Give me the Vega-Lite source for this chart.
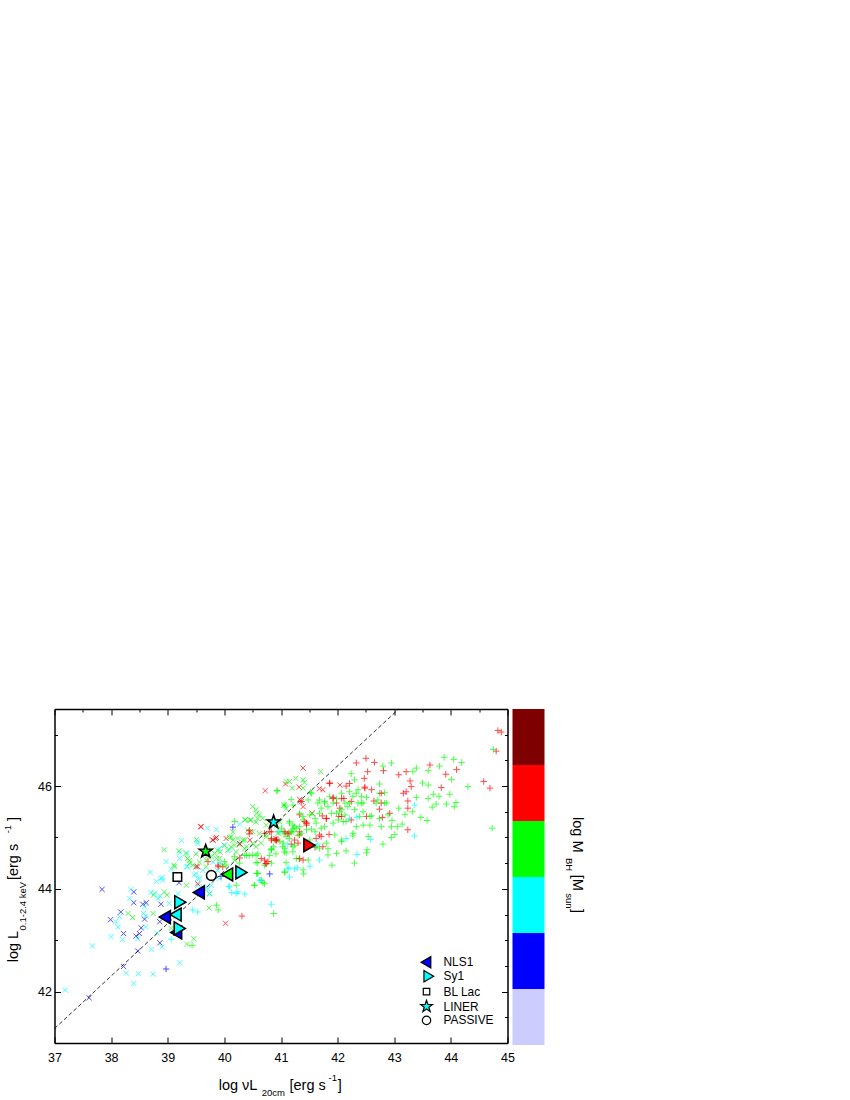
{
"$schema":"https://vega.github.io/schema/vega-lite/v6.json",
"autosize":{"type":"pad"},
"padding":{"left":2.5,"top":707,"right":0,"bottom":0},
"background":"white",
"config":{"view":{"stroke":null},"font":"Liberation Sans"},
"resolve":{"scale":{"color":"independent"}},
"datasets":{
"scatter":[
{"x":37.84,"y":43.99,"m":"x","c":"B"},{"x":38.40,"y":43.94,"m":"x","c":"B"},{"x":38.40,"y":43.73,"m":"x","c":"B"},{"x":38.62,"y":43.73,"m":"x","c":"B"},{"x":38.56,"y":43.70,"m":"x","c":"B"},{"x":38.17,"y":43.55,"m":"x","c":"B"},{"x":37.99,"y":43.40,"m":"x","c":"B"},{"x":38.59,"y":43.41,"m":"x","c":"B"},{"x":38.88,"y":43.70,"m":"x","c":"B"},{"x":38.22,"y":43.13,"m":"x","c":"B"},{"x":38.53,"y":43.24,"m":"x","c":"B"},{"x":38.44,"y":43.08,"m":"x","c":"B"},{"x":38.50,"y":43.13,"m":"x","c":"B"},{"x":38.86,"y":42.95,"m":"x","c":"B"},{"x":38.47,"y":42.79,"m":"x","c":"B"},{"x":38.22,"y":42.49,"m":"x","c":"B"},{"x":37.61,"y":41.88,"m":"x","c":"B"},{"x":38.97,"y":42.44,"m":"+","c":"B"},{"x":38.86,"y":43.36,"m":"x","c":"B"},{"x":39.2,"y":44.12,"m":"x","c":"B"},
{"x":38.69,"y":44.32,"m":"x","c":"C"},{"x":38.97,"y":44.53,"m":"x","c":"C"},{"x":38.35,"y":43.99,"m":"x","c":"C"},{"x":38.33,"y":43.81,"m":"x","c":"C"},{"x":38.70,"y":43.93,"m":"x","c":"C"},{"x":38.8,"y":44.14,"m":"x","c":"C"},{"x":38.88,"y":44.20,"m":"x","c":"C"},{"x":38.91,"y":44.17,"m":"x","c":"C"},{"x":38.77,"y":43.91,"m":"x","c":"C"},{"x":38.86,"y":43.86,"m":"x","c":"C"},{"x":38.83,"y":43.81,"m":"x","c":"C"},{"x":38.59,"y":43.65,"m":"x","c":"C"},{"x":38.57,"y":43.52,"m":"x","c":"C"},{"x":38.61,"y":43.47,"m":"x","c":"C"},{"x":38.15,"y":43.46,"m":"x","c":"C"},{"x":38.08,"y":43.36,"m":"x","c":"C"},{"x":38.12,"y":43.26,"m":"x","c":"C"},{"x":38.61,"y":43.26,"m":"x","c":"C"},{"x":38.0,"y":43.07,"m":"x","c":"C"},{"x":38.2,"y":43.01,"m":"x","c":"C"},{"x":38.47,"y":43.03,"m":"x","c":"C"},{"x":38.81,"y":43.14,"m":"x","c":"C"},{"x":38.9,"y":42.87,"m":"x","c":"C"},{"x":38.71,"y":42.82,"m":"x","c":"C"},{"x":37.67,"y":42.89,"m":"x","c":"C"},{"x":37.19,"y":42.03,"m":"x","c":"C"},{"x":38.27,"y":42.36,"m":"x","c":"C"},{"x":38.48,"y":42.35,"m":"x","c":"C"},{"x":38.74,"y":42.34,"m":"x","c":"C"},{"x":38.4,"y":42.16,"m":"x","c":"C"},{"x":39.21,"y":42.56,"m":"x","c":"C"},{"x":39.06,"y":43.02,"m":"+","c":"C"},{"x":39.06,"y":44.38,"m":"x","c":"C"},{"x":39.5,"y":44.43,"m":"x","c":"C"},{"x":39.47,"y":44.27,"m":"x","c":"C"},{"x":39.56,"y":44.2,"m":"x","c":"C"},{"x":39.53,"y":44.07,"m":"x","c":"C"},{"x":39.62,"y":44.04,"m":"x","c":"C"},{"x":39.71,"y":44.0,"m":"x","c":"C"},{"x":39.18,"y":43.91,"m":"x","c":"C"},{"x":38.97,"y":43.46,"m":"x","c":"C"},{"x":39.03,"y":43.72,"m":"x","c":"C"},{"x":39.33,"y":44.43,"m":"x","c":"C"},
{"x":39.44,"y":43.59,"m":"+","c":"C"},{"x":39.53,"y":43.55,"m":"+","c":"C"},{"x":40.08,"y":44.05,"m":"+","c":"C"},{"x":40.13,"y":43.93,"m":"+","c":"C"},{"x":40.21,"y":43.91,"m":"+","c":"C"},{"x":40.65,"y":44.16,"m":"+","c":"C"},{"x":40.83,"y":43.70,"m":"+","c":"C"},
{"x":39.11,"y":44.46,"m":"x","c":"G"},{"x":38.3,"y":43.52,"m":"x","c":"G"},{"x":38.38,"y":43.44,"m":"x","c":"G"},{"x":38.74,"y":43.52,"m":"x","c":"G"},{"x":38.75,"y":43.88,"m":"x","c":"G"},{"x":38.94,"y":43.94,"m":"x","c":"G"},{"x":38.99,"y":43.88,"m":"x","c":"G"},{"x":39.33,"y":44.07,"m":"x","c":"G"},{"x":39.22,"y":43.75,"m":"x","c":"G"},{"x":39.06,"y":43.23,"m":"x","c":"G"},{"x":39.34,"y":42.92,"m":"x","c":"G"},{"x":39.46,"y":43.03,"m":"x","c":"G"},{"x":39.74,"y":43.91,"m":"x","c":"G"},{"x":39.73,"y":43.63,"m":"x","c":"G"},{"x":39.39,"y":44.5,"m":"x","c":"G"},{"x":39.68,"y":44.43,"m":"x","c":"G"},
{"x":39.43,"y":42.9,"m":"+","c":"G"},{"x":39.86,"y":43.68,"m":"+","c":"G"},{"x":39.89,"y":43.59,"m":"+","c":"G"},{"x":40.21,"y":44.07,"m":"+","c":"G"},{"x":40.53,"y":44.07,"m":"+","c":"G"},{"x":40.59,"y":44.3,"m":"+","c":"G"},{"x":40.68,"y":44.12,"m":"+","c":"G"},{"x":40.87,"y":43.52,"m":"+","c":"G"},{"x":40.59,"y":44.51,"m":"+","c":"G"},{"x":40.71,"y":44.46,"m":"+","c":"G"},
{"x":40.02,"y":43.33,"m":"x","c":"R"},{"x":40.31,"y":43.47,"m":"+","c":"R"},{"x":39.53,"y":44.1,"m":"x","c":"R"},{"x":39.5,"y":44.43,"m":"x","c":"R"},{"x":39.71,"y":44.53,"m":"+","c":"R"},{"x":39.89,"y":44.43,"m":"+","c":"R"},{"x":40.73,"y":44.49,"m":"+","c":"R"},
{"x":40.8,"y":44.29,"m":"+","c":"B"},{"x":39.94,"y":44.24,"m":"+","c":"B"},{"x":40.15,"y":45.2,"m":"+","c":"B"},
{"x":40.72,"y":45.91,"m":"x","c":"R"},{"x":39.59,"y":45.21,"m":"x","c":"R"},{"x":39.79,"y":44.95,"m":"x","c":"R"},{"x":39.86,"y":45.0,"m":"x","c":"R"},{"x":40.03,"y":44.98,"m":"x","c":"R"},{"x":40.46,"y":45.11,"m":"x","c":"R"},{"x":40.45,"y":44.95,"m":"x","c":"R"},{"x":40.27,"y":44.87,"m":"x","c":"R"},
{"x":39.7,"y":45.18,"m":"x","c":"C"},{"x":39.86,"y":45.16,"m":"x","c":"C"},{"x":40.27,"y":45.26,"m":"x","c":"C"},{"x":39.24,"y":44.94,"m":"x","c":"C"},{"x":39.21,"y":44.7,"m":"x","c":"C"},{"x":39.34,"y":44.69,"m":"x","c":"C"},{"x":38.9,"y":44.22,"m":"x","c":"C"},{"x":39.52,"y":44.92,"m":"x","c":"C"},{"x":40.0,"y":44.85,"m":"x","c":"C"},{"x":40.09,"y":44.76,"m":"x","c":"C"},
{"x":38.94,"y":44.76,"m":"x","c":"G"},{"x":39.2,"y":44.74,"m":"x","c":"G"},{"x":39.51,"y":44.96,"m":"x","c":"G"},{"x":39.5,"y":44.68,"m":"x","c":"G"},{"x":39.38,"y":44.55,"m":"x","c":"G"},{"x":39.68,"y":44.56,"m":"x","c":"G"},{"x":39.77,"y":44.63,"m":"x","c":"G"},{"x":39.86,"y":44.59,"m":"x","c":"G"},{"x":39.92,"y":44.72,"m":"x","c":"G"},{"x":40.09,"y":45.0,"m":"x","c":"G"},{"x":40.15,"y":44.95,"m":"x","c":"G"},{"x":40.12,"y":44.82,"m":"x","c":"G"},{"x":40.37,"y":45.35,"m":"x","c":"G"},{"x":40.5,"y":45.6,"m":"x","c":"G"},{"x":40.56,"y":45.54,"m":"x","c":"G"},{"x":40.62,"y":45.44,"m":"x","c":"G"},{"x":40.59,"y":45.37,"m":"x","c":"G"},{"x":40.45,"y":45.34,"m":"x","c":"G"},{"x":40.5,"y":45.11,"m":"x","c":"G"},{"x":40.33,"y":44.95,"m":"x","c":"G"},{"x":40.21,"y":44.72,"m":"x","c":"G"},{"x":40.39,"y":44.82,"m":"x","c":"G"},{"x":40.56,"y":44.82,"m":"x","c":"G"},{"x":40.65,"y":44.89,"m":"x","c":"G"},{"x":40.86,"y":44.95,"m":"x","c":"G"},{"x":40.95,"y":45.08,"m":"x","c":"G"},{"x":40.74,"y":45.05,"m":"x","c":"G"},
{"x":40.93,"y":45.91,"m":"+","c":"G"},{"x":40.5,"y":44.66,"m":"+","c":"G"},{"x":40.59,"y":44.68,"m":"+","c":"G"},{"x":40.39,"y":44.65,"m":"+","c":"G"},{"x":40.18,"y":45.31,"m":"+","c":"G"},{"x":40.56,"y":44.51,"m":"+","c":"G"},{"x":40.27,"y":44.5,"m":"+","c":"G"},{"x":40.18,"y":44.63,"m":"+","c":"G"},{"x":40.03,"y":44.46,"m":"+","c":"G"},{"x":40.0,"y":44.53,"m":"+","c":"G"},{"x":40.83,"y":44.5,"m":"+","c":"G"},{"x":40.83,"y":44.76,"m":"+","c":"G"},{"x":40.58,"y":44.3,"m":"+","c":"G"},
{"x":40.77,"y":44.53,"m":"+","c":"R"},{"x":39.89,"y":44.46,"m":"+","c":"R"},{"x":40.92,"y":44.95,"m":"+","c":"R"},{"x":40.83,"y":45.11,"m":"+","c":"R"},{"x":40.27,"y":44.6,"m":"+","c":"R"},{"x":40.65,"y":44.59,"m":"+","c":"R"},{"x":39.97,"y":44.43,"m":"+","c":"R"},
{"x":40.27,"y":44.89,"m":"+","c":"C"},{"x":39.92,"y":44.5,"m":"+","c":"C"},
{"x":42.33,"y":46.45,"m":"+","c":"R"},{"x":42.5,"y":46.54,"m":"+","c":"R"},{"x":42.65,"y":46.46,"m":"+","c":"R"},{"x":42.53,"y":46.28,"m":"+","c":"R"},{"x":42.81,"y":46.3,"m":"+","c":"R"},{"x":42.47,"y":46.15,"m":"+","c":"R"},{"x":43.08,"y":46.22,"m":"+","c":"R"},{"x":43.21,"y":46.28,"m":"+","c":"R"},{"x":43.63,"y":46.41,"m":"+","c":"R"},{"x":44.1,"y":46.32,"m":"+","c":"R"},{"x":43.91,"y":46.23,"m":"+","c":"R"},{"x":43.28,"y":46.1,"m":"+","c":"R"},{"x":43.3,"y":45.99,"m":"+","c":"R"},{"x":43.83,"y":45.97,"m":"+","c":"R"},{"x":44.58,"y":46.09,"m":"+","c":"R"},{"x":44.69,"y":45.96,"m":"+","c":"R"},{"x":44.83,"y":47.08,"m":"+","c":"R"},{"x":44.89,"y":47.05,"m":"+","c":"R"},{"x":44.8,"y":46.68,"m":"+","c":"R"},{"x":41.86,"y":46.06,"m":"+","c":"R"},{"x":42.15,"y":46.0,"m":"+","c":"R"},{"x":42.48,"y":45.98,"m":"+","c":"R"},{"x":42.6,"y":45.93,"m":"+","c":"R"},{"x":41.92,"y":45.78,"m":"+","c":"R"},{"x":42.11,"y":45.76,"m":"+","c":"R"},{"x":42.24,"y":45.7,"m":"+","c":"R"},{"x":42.64,"y":45.71,"m":"+","c":"R"},{"x":42.77,"y":45.67,"m":"+","c":"R"},{"x":43.16,"y":45.86,"m":"+","c":"R"},{"x":43.21,"y":45.89,"m":"+","c":"R"},{"x":43.24,"y":45.71,"m":"+","c":"R"},{"x":43.24,"y":45.57,"m":"+","c":"R"},{"x":42.24,"y":45.34,"m":"+","c":"R"},{"x":42.79,"y":45.39,"m":"+","c":"R"},{"x":42.92,"y":45.47,"m":"+","c":"R"},{"x":43.24,"y":45.15,"m":"+","c":"R"},{"x":41.8,"y":45.37,"m":"+","c":"R"},{"x":41.73,"y":45.42,"m":"+","c":"R"},{"x":42.02,"y":45.41,"m":"+","c":"R"},{"x":42.51,"y":45.41,"m":"+","c":"R"},{"x":42.74,"y":45.55,"m":"+","c":"R"},{"x":41.14,"y":45.09,"m":"+","c":"R"},{"x":41.33,"y":45.11,"m":"+","c":"R"},{"x":41.33,"y":45.05,"m":"+","c":"R"},{"x":41.85,"y":45.06,"m":"+","c":"R"},{"x":41.62,"y":44.98,"m":"+","c":"R"},{"x":41.71,"y":45.02,"m":"+","c":"R"},{"x":40.83,"y":44.98,"m":"+","c":"R"},{"x":41.45,"y":45.24,"m":"+","c":"R"},{"x":41.33,"y":45.44,"m":"+","c":"R"},{"x":41.3,"y":44.89,"m":"+","c":"R"},{"x":41.18,"y":44.87,"m":"+","c":"R"},{"x":41.6,"y":44.81,"m":"+","c":"R"},{"x":41.98,"y":45.67,"m":"+","c":"R"},{"x":42.04,"y":45.57,"m":"+","c":"R"},{"x":41.74,"y":44.82,"m":"+","c":"R"},{"x":41.39,"y":44.56,"m":"+","c":"R"},{"x":41.45,"y":45.28,"m":"+","c":"R"},
{"x":41.39,"y":46.35,"m":"x","c":"R"},{"x":41.08,"y":46.04,"m":"x","c":"R"},{"x":41.32,"y":45.98,"m":"x","c":"R"},{"x":41.68,"y":45.95,"m":"x","c":"R"},{"x":41.74,"y":45.93,"m":"x","c":"R"},{"x":42.04,"y":46.02,"m":"x","c":"R"},{"x":41.33,"y":45.74,"m":"x","c":"R"},{"x":41.36,"y":45.7,"m":"x","c":"R"},{"x":41.39,"y":45.6,"m":"x","c":"R"},{"x":41.55,"y":45.47,"m":"x","c":"R"},{"x":40.92,"y":44.95,"m":"x","c":"R"},
{"x":41.7,"y":46.28,"m":"x","c":"G"},{"x":41.09,"y":46.09,"m":"x","c":"G"},{"x":41.15,"y":46.09,"m":"x","c":"G"},{"x":41.26,"y":46.15,"m":"x","c":"G"},{"x":41.2,"y":45.96,"m":"x","c":"G"},{"x":41.39,"y":46.12,"m":"x","c":"G"},{"x":41.41,"y":46.07,"m":"x","c":"G"},{"x":41.39,"y":45.96,"m":"x","c":"G"},{"x":41.05,"y":45.63,"m":"x","c":"G"},{"x":41.55,"y":45.47,"m":"x","c":"G"},{"x":40.98,"y":45.31,"m":"x","c":"G"},{"x":40.93,"y":45.24,"m":"x","c":"G"},
{"x":42.8,"y":46.39,"m":"+","c":"G"},{"x":42.95,"y":46.45,"m":"+","c":"G"},{"x":42.24,"y":46.24,"m":"+","c":"G"},{"x":42.74,"y":46.04,"m":"+","c":"G"},{"x":42.3,"y":46.12,"m":"+","c":"G"},{"x":43.88,"y":46.56,"m":"+","c":"G"},{"x":44.05,"y":46.52,"m":"+","c":"G"},{"x":44.19,"y":46.46,"m":"+","c":"G"},{"x":43.8,"y":46.39,"m":"+","c":"G"},{"x":43.6,"y":46.3,"m":"+","c":"G"},{"x":43.39,"y":46.35,"m":"+","c":"G"},{"x":43.33,"y":46.28,"m":"+","c":"G"},{"x":43.5,"y":46.06,"m":"+","c":"G"},{"x":43.6,"y":46.02,"m":"+","c":"G"},{"x":44.01,"y":46.13,"m":"+","c":"G"},{"x":44.3,"y":45.99,"m":"+","c":"G"},{"x":44.75,"y":46.71,"m":"+","c":"G"},{"x":44.73,"y":45.18,"m":"+","c":"G"},{"x":41.52,"y":45.88,"m":"+","c":"G"},{"x":41.68,"y":45.73,"m":"+","c":"G"},{"x":41.77,"y":45.7,"m":"+","c":"G"},{"x":41.86,"y":45.8,"m":"+","c":"G"},{"x":41.98,"y":45.75,"m":"+","c":"G"},{"x":42.07,"y":45.86,"m":"+","c":"G"},{"x":42.21,"y":45.89,"m":"+","c":"G"},{"x":42.36,"y":45.93,"m":"+","c":"G"},{"x":42.42,"y":45.8,"m":"+","c":"G"},{"x":42.51,"y":45.78,"m":"+","c":"G"},{"x":42.27,"y":45.8,"m":"+","c":"G"},{"x":42.74,"y":45.86,"m":"+","c":"G"},{"x":42.83,"y":45.87,"m":"+","c":"G"},{"x":42.13,"y":45.67,"m":"+","c":"G"},{"x":42.36,"y":45.67,"m":"+","c":"G"},{"x":42.45,"y":45.67,"m":"+","c":"G"},{"x":42.71,"y":45.73,"m":"+","c":"G"},{"x":42.86,"y":45.67,"m":"+","c":"G"},{"x":43.08,"y":45.57,"m":"+","c":"G"},{"x":43.19,"y":45.45,"m":"+","c":"G"},{"x":43.39,"y":45.78,"m":"+","c":"G"},{"x":43.6,"y":45.76,"m":"+","c":"G"},{"x":43.69,"y":45.84,"m":"+","c":"G"},{"x":43.79,"y":45.8,"m":"+","c":"G"},{"x":43.98,"y":45.84,"m":"+","c":"G"},{"x":44.09,"y":45.68,"m":"+","c":"G"},{"x":43.92,"y":45.65,"m":"+","c":"G"},{"x":44.06,"y":45.6,"m":"+","c":"G"},{"x":43.74,"y":45.65,"m":"+","c":"G"},{"x":43.67,"y":45.59,"m":"+","c":"G"},{"x":43.32,"y":45.5,"m":"+","c":"G"},{"x":43.47,"y":45.39,"m":"+","c":"G"},{"x":43.58,"y":45.33,"m":"+","c":"G"},{"x":42.89,"y":45.44,"m":"+","c":"G"},{"x":42.74,"y":45.37,"m":"+","c":"G"},{"x":42.6,"y":45.42,"m":"+","c":"G"},{"x":42.39,"y":45.41,"m":"+","c":"G"},{"x":42.13,"y":45.44,"m":"+","c":"G"},{"x":41.98,"y":45.47,"m":"+","c":"G"},{"x":41.89,"y":45.47,"m":"+","c":"G"},{"x":42.1,"y":45.31,"m":"+","c":"G"},{"x":41.92,"y":45.28,"m":"+","c":"G"},{"x":42.33,"y":45.21,"m":"+","c":"G"},{"x":42.57,"y":45.24,"m":"+","c":"G"},{"x":42.77,"y":45.21,"m":"+","c":"G"},{"x":42.95,"y":45.21,"m":"+","c":"G"},{"x":43.06,"y":45.21,"m":"+","c":"G"},{"x":43.14,"y":45.26,"m":"+","c":"G"},{"x":43.01,"y":45.06,"m":"+","c":"G"},{"x":42.95,"y":45.0,"m":"+","c":"G"},{"x":42.8,"y":44.87,"m":"+","c":"G"},{"x":42.54,"y":45.02,"m":"+","c":"G"},{"x":42.27,"y":45.03,"m":"+","c":"G"},{"x":42.07,"y":44.92,"m":"+","c":"G"},{"x":41.98,"y":44.69,"m":"+","c":"G"},{"x":42.15,"y":44.74,"m":"+","c":"G"},{"x":41.83,"y":44.66,"m":"+","c":"G"},{"x":41.68,"y":44.79,"m":"+","c":"G"},{"x":41.83,"y":44.78,"m":"+","c":"G"},{"x":42.52,"y":44.76,"m":"+","c":"G"},{"x":42.51,"y":44.7,"m":"+","c":"G"},{"x":42.3,"y":44.5,"m":"+","c":"G"},{"x":41.9,"y":44.46,"m":"+","c":"G"},{"x":41.09,"y":44.7,"m":"+","c":"G"},{"x":41.09,"y":44.51,"m":"+","c":"G"},{"x":41.07,"y":44.32,"m":"+","c":"G"},{"x":41.39,"y":44.37,"m":"+","c":"G"},{"x":41.4,"y":44.29,"m":"+","c":"G"},{"x":41.32,"y":44.58,"m":"+","c":"G"},{"x":41.48,"y":44.56,"m":"+","c":"G"},{"x":41.18,"y":45.74,"m":"+","c":"G"},{"x":41.07,"y":45.63,"m":"+","c":"G"},{"x":41.21,"y":45.63,"m":"+","c":"G"},{"x":41.48,"y":45.73,"m":"+","c":"G"},{"x":41.33,"y":45.47,"m":"+","c":"G"},{"x":41.39,"y":45.41,"m":"+","c":"G"},{"x":41.15,"y":45.28,"m":"+","c":"G"},{"x":41.21,"y":45.18,"m":"+","c":"G"},{"x":41.21,"y":45.11,"m":"+","c":"G"},{"x":41.33,"y":45.21,"m":"+","c":"G"},{"x":41.45,"y":45.15,"m":"+","c":"G"},{"x":41.54,"y":45.16,"m":"+","c":"G"},{"x":41.6,"y":45.11,"m":"+","c":"G"},{"x":41.71,"y":45.18,"m":"+","c":"G"},{"x":41.62,"y":45.28,"m":"+","c":"G"},{"x":41.77,"y":45.21,"m":"+","c":"G"},{"x":42.07,"y":45.54,"m":"+","c":"G"},{"x":41.71,"y":45.57,"m":"+","c":"G"},{"x":41.83,"y":45.6,"m":"+","c":"G"},{"x":42.18,"y":45.6,"m":"+","c":"G"},{"x":42.3,"y":45.54,"m":"+","c":"G"},{"x":42.45,"y":45.5,"m":"+","c":"G"},{"x":40.87,"y":44.82,"m":"+","c":"G"},{"x":40.83,"y":44.76,"m":"+","c":"G"},{"x":41.04,"y":44.89,"m":"+","c":"G"},{"x":40.95,"y":45.11,"m":"+","c":"G"},{"x":41.07,"y":45.08,"m":"+","c":"G"},{"x":41.09,"y":45.02,"m":"+","c":"G"},{"x":41.51,"y":44.95,"m":"+","c":"G"},{"x":41.24,"y":44.85,"m":"+","c":"G"},{"x":41.15,"y":44.98,"m":"+","c":"G"},{"x":41.01,"y":45.18,"m":"+","c":"G"},{"x":42.96,"y":45.33,"m":"+","c":"G"},{"x":40.93,"y":45.91,"m":"+","c":"G"},
{"x":43.36,"y":45.63,"m":"+","c":"C"},{"x":43.36,"y":45.03,"m":"+","c":"C"},{"x":42.34,"y":45.39,"m":"+","c":"C"},{"x":42.21,"y":45.37,"m":"+","c":"C"},{"x":42.15,"y":44.98,"m":"+","c":"C"},{"x":42.58,"y":44.96,"m":"+","c":"C"},{"x":42.34,"y":44.67,"m":"+","c":"C"},{"x":41.68,"y":44.56,"m":"+","c":"C"},{"x":41.51,"y":44.44,"m":"+","c":"C"},{"x":41.29,"y":44.41,"m":"+","c":"C"},{"x":41.14,"y":44.41,"m":"+","c":"C"},{"x":41.65,"y":44.87,"m":"+","c":"C"},{"x":41.12,"y":44.87,"m":"+","c":"C"},{"x":40.98,"y":45.11,"m":"+","c":"C"},
{"x":40.57,"y":45.47,"m":"x","c":"G"},{"x":40.36,"y":45.34,"m":"x","c":"G"},{"x":40.47,"y":45.34,"m":"x","c":"G"},{"x":40.56,"y":45.3,"m":"x","c":"G"},{"x":40.68,"y":45.37,"m":"x","c":"G"},{"x":41.06,"y":45.63,"m":"x","c":"G"},{"x":41.09,"y":45.56,"m":"x","c":"G"},{"x":40.15,"y":45.11,"m":"x","c":"G"},{"x":40.12,"y":45.01,"m":"x","c":"G"},{"x":40.0,"y":44.85,"m":"x","c":"G"},{"x":40.18,"y":44.85,"m":"x","c":"G"},{"x":40.06,"y":44.75,"m":"x","c":"G"},{"x":39.88,"y":44.75,"m":"x","c":"G"},{"x":39.77,"y":44.75,"m":"x","c":"G"},{"x":39.83,"y":44.69,"m":"x","c":"G"},{"x":39.71,"y":44.65,"m":"x","c":"G"},{"x":39.91,"y":44.59,"m":"x","c":"G"},{"x":39.35,"y":44.59,"m":"x","c":"G"},{"x":39.44,"y":44.46,"m":"x","c":"G"},{"x":39.56,"y":44.52,"m":"x","c":"G"},{"x":39.32,"y":44.69,"m":"x","c":"G"},{"x":39.12,"y":44.43,"m":"x","c":"G"},{"x":39.97,"y":44.46,"m":"x","c":"G"},{"x":40.18,"y":44.56,"m":"x","c":"G"},{"x":40.36,"y":44.78,"m":"x","c":"G"},{"x":40.5,"y":44.88,"m":"x","c":"G"},{"x":40.41,"y":45.14,"m":"x","c":"G"},{"x":40.36,"y":44.95,"m":"x","c":"G"},{"x":40.74,"y":45.01,"m":"x","c":"G"},{"x":40.62,"y":45.08,"m":"x","c":"G"},{"x":40.74,"y":45.24,"m":"x","c":"G"},{"x":40.24,"y":44.98,"m":"x","c":"G"},{"x":40.27,"y":44.88,"m":"x","c":"G"},
{"x":40.56,"y":44.65,"m":"+","c":"G"},{"x":40.44,"y":44.65,"m":"+","c":"G"},{"x":40.36,"y":44.65,"m":"+","c":"G"},{"x":40.83,"y":44.78,"m":"+","c":"G"},{"x":41.06,"y":44.72,"m":"+","c":"G"},{"x":40.57,"y":44.3,"m":"+","c":"G"},{"x":41.06,"y":44.33,"m":"+","c":"G"},{"x":40.53,"y":44.07,"m":"+","c":"G"},{"x":40.71,"y":44.1,"m":"+","c":"G"},{"x":40.65,"y":44.17,"m":"+","c":"G"},{"x":40.8,"y":44.65,"m":"+","c":"G"},{"x":40.91,"y":44.68,"m":"+","c":"G"},{"x":41.18,"y":45.11,"m":"+","c":"G"},{"x":41.21,"y":45.24,"m":"+","c":"G"},{"x":41.27,"y":45.17,"m":"+","c":"G"},{"x":41.3,"y":45.04,"m":"+","c":"G"},{"x":41.03,"y":44.82,"m":"+","c":"G"},{"x":41.21,"y":44.72,"m":"+","c":"G"},{"x":41.27,"y":44.59,"m":"+","c":"G"},
{"x":40.71,"y":45.08,"m":"+","c":"R"},{"x":40.8,"y":45.11,"m":"+","c":"R"},{"x":41.12,"y":45.07,"m":"+","c":"R"},{"x":40.83,"y":44.95,"m":"+","c":"R"},{"x":40.91,"y":44.95,"m":"+","c":"R"},{"x":40.44,"y":45.14,"m":"+","c":"R"},{"x":40.71,"y":44.56,"m":"+","c":"R"},{"x":40.74,"y":44.49,"m":"+","c":"R"},{"x":40.44,"y":45.07,"m":"+","c":"R"},
{"x":40.91,"y":44.98,"m":"x","c":"R"},{"x":40.27,"y":44.88,"m":"x","c":"R"},{"x":39.8,"y":44.95,"m":"x","c":"R"},{"x":39.84,"y":44.98,"m":"x","c":"R"},{"x":39.58,"y":45.21,"m":"x","c":"R"},{"x":39.53,"y":44.43,"m":"x","c":"R"},
{"x":39.53,"y":44.88,"m":"x","c":"C"},{"x":39.91,"y":44.78,"m":"x","c":"C"},{"x":39.21,"y":44.59,"m":"x","c":"C"},{"x":39.35,"y":44.43,"m":"x","c":"C"},{"x":39.5,"y":44.3,"m":"x","c":"C"},{"x":39.62,"y":44.36,"m":"x","c":"C"},{"x":39.53,"y":44.2,"m":"x","c":"C"},{"x":39.71,"y":44.23,"m":"x","c":"C"},{"x":39.8,"y":44.52,"m":"x","c":"C"},{"x":39.88,"y":44.36,"m":"x","c":"C"},{"x":39.91,"y":44.2,"m":"x","c":"C"},{"x":39.65,"y":44.0,"m":"x","c":"C"},{"x":39.77,"y":44.07,"m":"x","c":"C"},{"x":39.74,"y":43.9,"m":"x","c":"C"},
{"x":40.09,"y":44.04,"m":"+","c":"C"},{"x":40.24,"y":43.94,"m":"+","c":"C"},{"x":40.36,"y":43.9,"m":"+","c":"C"},{"x":40.62,"y":44.17,"m":"+","c":"C"},{"x":41.12,"y":44.39,"m":"+","c":"C"},{"x":41.24,"y":44.39,"m":"+","c":"C"},{"x":41.15,"y":44.23,"m":"+","c":"C"},
{"x":42.04,"y":45.5,"m":"+","c":"G"},{"x":41.92,"y":45.67,"m":"+","c":"G"},{"x":42.33,"y":45.86,"m":"+","c":"G"},{"x":42.21,"y":45.67,"m":"+","c":"G"},{"x":41.15,"y":45.31,"m":"+","c":"G"},{"x":41.24,"y":45.21,"m":"+","c":"G"},{"x":41.18,"y":45.11,"m":"+","c":"G"},{"x":41.39,"y":45.34,"m":"+","c":"G"},{"x":41.51,"y":45.44,"m":"+","c":"G"},{"x":41.6,"y":45.37,"m":"+","c":"G"},{"x":41.68,"y":45.47,"m":"+","c":"G"},{"x":41.77,"y":45.67,"m":"+","c":"G"},{"x":41.65,"y":45.67,"m":"+","c":"G"},{"x":41.54,"y":45.86,"m":"+","c":"G"},{"x":41.36,"y":45.08,"m":"+","c":"G"},{"x":41.04,"y":45.11,"m":"+","c":"G"},{"x":40.98,"y":44.92,"m":"+","c":"G"},{"x":41.07,"y":44.79,"m":"+","c":"G"},{"x":41.21,"y":44.82,"m":"+","c":"G"},{"x":41.62,"y":44.82,"m":"+","c":"G"},{"x":41.8,"y":44.89,"m":"+","c":"G"},{"x":41.95,"y":45.05,"m":"+","c":"G"},{"x":42.07,"y":44.95,"m":"+","c":"G"},{"x":42.27,"y":45.08,"m":"+","c":"G"},{"x":42.45,"y":45.24,"m":"+","c":"G"},{"x":42.57,"y":45.41,"m":"+","c":"G"},{"x":42.68,"y":45.67,"m":"+","c":"G"},{"x":42.83,"y":45.67,"m":"+","c":"G"},{"x":42.42,"y":45.67,"m":"+","c":"G"},{"x":42.01,"y":45.34,"m":"+","c":"G"},{"x":42.15,"y":45.31,"m":"+","c":"G"},
{"x":41.45,"y":45.28,"m":"+","c":"R"},{"x":42.07,"y":45.41,"m":"+","c":"R"},{"x":41.92,"y":45.76,"m":"+","c":"R"},{"x":42.07,"y":45.76,"m":"+","c":"R"},{"x":41.8,"y":45.37,"m":"+","c":"R"},{"x":40.92,"y":44.95,"m":"+","c":"R"},{"x":41.07,"y":45.11,"m":"+","c":"R"},{"x":41.24,"y":44.95,"m":"+","c":"R"},{"x":41.68,"y":45.05,"m":"+","c":"R"},{"x":41.33,"y":44.59,"m":"+","c":"R"},{"x":41.42,"y":45.31,"m":"+","c":"R"},{"x":41.36,"y":45.7,"m":"+","c":"R"},{"x":42.77,"y":45.86,"m":"+","c":"R"},{"x":42.48,"y":45.96,"m":"+","c":"R"},{"x":41.86,"y":46.05,"m":"+","c":"R"},{"x":42.21,"y":46.05,"m":"+","c":"R"}
],
"types":[
{"x":38.96,"y":43.45,"m":"L","c":"B"},{"x":39.56,"y":43.93,"m":"L","c":"B"},{"x":39.16,"y":43.15,"m":"L","c":"B"},{"x":40.06,"y":44.28,"m":"L","c":"G"},{"x":39.15,"y":43.5,"m":"L","c":"C"},{"x":39.21,"y":43.74,"m":"R","c":"C"},{"x":39.2,"y":43.23,"m":"R","c":"C"},{"x":40.29,"y":44.32,"m":"R","c":"C"},{"x":41.49,"y":44.85,"m":"R","c":"R"},{"x":39.17,"y":44.23,"m":"S","c":"W"},{"x":39.77,"y":44.26,"m":"O","c":"W"},{"x":39.67,"y":44.73,"m":"T","c":"G"},{"x":40.87,"y":45.3,"m":"T","c":"C"}
],
"keys":[
{"x":43.57,"y":42.57,"m":"L","c":"B","t":"NLS1"},{"x":43.6,"y":42.3,"m":"R","c":"C","t":"Sy1"},{"x":43.57,"y":42.0,"m":"S","c":"W","t":"BL Lac"},{"x":43.57,"y":41.71,"m":"T","c":"C","t":"LINER"},{"x":43.57,"y":41.44,"m":"O","c":"W","t":"PASSIVE"}
],
"fit":[{"x":37,"y":41.28},{"x":43.08,"y":47.5}],
"bins":[
{"lo":5,"hi":6,"c":"a"},{"lo":6,"hi":7,"c":"b"},{"lo":7,"hi":8,"c":"c"},{"lo":8,"hi":9,"c":"d"},{"lo":9,"hi":10,"c":"e"},{"lo":10,"hi":11,"c":"f"}
]
},
"hconcat":[
{"width":453,"height":334,
 "resolve":{"axis":{"x":"independent","y":"independent"}},
 "layer":[
 {"data":{"name":"scatter"},
  "mark":{"type":"point","filled":false,"size":42,"strokeWidth":1},
  "encoding":{
   "x":{"field":"x","type":"quantitative","scale":{"domain":[37,45],"nice":false,"zero":false},
    "axis":{"orient":"bottom","title":null,"values":[37,37.5,38,38.5,39,39.5,40,40.5,41,41.5,42,42.5,43,43.5,44,44.5,45],"format":"d","labelExpr":"datum.value%1==0?datum.label:''","grid":false,"domainColor":"black","domainWidth":1.5,"tickColor":"black","tickWidth":1,"tickSize":{"condition":{"test":"datum.value%1==0","value":-6},"value":-3},"labelFont":"Liberation Sans","labelFontSize":12.5,"labelColor":"black","labelPadding":14,"labelOverlap":false,"labelFlush":false}},
   "y":{"field":"y","type":"quantitative","scale":{"domain":[41,47.5],"nice":false,"zero":false},
    "axis":{"orient":"left","title":null,"values":[41,41.5,42,42.5,43,43.5,44,44.5,45,45.5,46,46.5,47,47.5],"format":"d","labelExpr":"datum.value%2==0?datum.label:''","grid":false,"domainColor":"black","domainWidth":1.5,"tickColor":"black","tickWidth":1,"tickSize":{"condition":{"test":"datum.value%2==0","value":-6},"value":-3},"labelFont":"Liberation Sans","labelFontSize":12.5,"labelColor":"black","labelPadding":9,"labelOverlap":false}},
   "color":{"field":"c","type":"nominal","legend":null,"scale":{"domain":["B","C","G","R"],"range":["#0000ff","#00ffff","#00ff00","#ff0000"]}},
   "shape":{"field":"m","type":"nominal","legend":null,"scale":{"domain":["x","+","L","R","S","T","O"],"range":["M-0.8,-0.8L0.8,0.8M-0.8,0.8L0.8,-0.8","M-1,0L1,0M0,-1L0,1","M0.75,-1L0.75,1L-0.95,0Z","M-0.75,-1L-0.75,1L0.95,0Z","M-1,-1L1,-1L1,1L-1,1Z","M0,-1L0.235,-0.324L0.951,-0.309L0.38,0.124L0.588,0.809L0,0.4L-0.588,0.809L-0.38,0.124L-0.951,-0.309L-0.235,-0.324Z","circle"]}}
  }},
 {"data":{"name":"fit"},
  "mark":{"type":"line","stroke":"black","strokeWidth":0.8,"strokeDash":[4,2.5]},
  "encoding":{
   "x":{"field":"x","type":"quantitative","scale":{"domain":[37,45],"nice":false,"zero":false},"axis":null},
   "y":{"field":"y","type":"quantitative","scale":{"domain":[41,47.5],"nice":false,"zero":false},"axis":null}
  }},
 {"data":{"name":"types"},
  "transform":[{"filter":"datum.m=='L'||datum.m=='R'"}],
  "mark":{"type":"point","filled":true,"opacity":1,"size":170,"stroke":"black","strokeWidth":1.5},
  "encoding":{
   "x":{"field":"x","type":"quantitative","scale":{"domain":[37,45],"nice":false,"zero":false},
    "axis":{"orient":"top","title":null,"labels":false,"values":[37,37.5,38,38.5,39,39.5,40,40.5,41,41.5,42,42.5,43,43.5,44,44.5,45],"grid":false,"domainColor":"black","domainWidth":1.5,"tickColor":"black","tickWidth":1,"tickSize":{"condition":{"test":"datum.value%1==0","value":-6},"value":-3}}},
   "y":{"field":"y","type":"quantitative","scale":{"domain":[41,47.5],"nice":false,"zero":false},
    "axis":{"orient":"right","title":null,"labels":false,"values":[41,41.5,42,42.5,43,43.5,44,44.5,45,45.5,46,46.5,47,47.5],"grid":false,"domainColor":"black","domainWidth":1.5,"tickColor":"black","tickWidth":1,"tickSize":{"condition":{"test":"datum.value%2==0","value":-6},"value":-3}}},
   "fill":{"field":"c","type":"nominal","legend":null,"scale":{"domain":["B","C","G","R","W"],"range":["#0000ff","#00ffff","#00ff00","#ff0000","#ffffff"]}},
   "shape":{"field":"m","type":"nominal","legend":null,"scale":{"domain":["x","+","L","R","S","T","O"],"range":["M-0.8,-0.8L0.8,0.8M-0.8,0.8L0.8,-0.8","M-1,0L1,0M0,-1L0,1","M0.75,-1L0.75,1L-0.95,0Z","M-0.75,-1L-0.75,1L0.95,0Z","M-1,-1L1,-1L1,1L-1,1Z","M0,-1L0.235,-0.324L0.951,-0.309L0.38,0.124L0.588,0.809L0,0.4L-0.588,0.809L-0.38,0.124L-0.951,-0.309L-0.235,-0.324Z","circle"]}}
  }},
 {"data":{"name":"types"},
  "transform":[{"filter":"datum.m=='T'"}],
  "mark":{"type":"point","filled":true,"opacity":1,"size":190,"stroke":"black","strokeWidth":1.5},
  "encoding":{
   "x":{"field":"x","type":"quantitative","scale":{"domain":[37,45],"nice":false,"zero":false},"axis":null},
   "y":{"field":"y","type":"quantitative","scale":{"domain":[41,47.5],"nice":false,"zero":false},"axis":null},
   "fill":{"field":"c","type":"nominal","legend":null,"scale":{"domain":["B","C","G","R","W"],"range":["#0000ff","#00ffff","#00ff00","#ff0000","#ffffff"]}},
   "shape":{"field":"m","type":"nominal","legend":null,"scale":{"domain":["x","+","L","R","S","T","O"],"range":["M-0.8,-0.8L0.8,0.8M-0.8,0.8L0.8,-0.8","M-1,0L1,0M0,-1L0,1","M0.75,-1L0.75,1L-0.95,0Z","M-0.75,-1L-0.75,1L0.95,0Z","M-1,-1L1,-1L1,1L-1,1Z","M0,-1L0.235,-0.324L0.951,-0.309L0.38,0.124L0.588,0.809L0,0.4L-0.588,0.809L-0.38,0.124L-0.951,-0.309L-0.235,-0.324Z","circle"]}}
  }},
 {"data":{"name":"types"},
  "transform":[{"filter":"datum.m=='S'"}],
  "mark":{"type":"point","filled":true,"opacity":1,"size":72,"stroke":"black","strokeWidth":1.5},
  "encoding":{
   "x":{"field":"x","type":"quantitative","scale":{"domain":[37,45],"nice":false,"zero":false},"axis":null},
   "y":{"field":"y","type":"quantitative","scale":{"domain":[41,47.5],"nice":false,"zero":false},"axis":null},
   "fill":{"field":"c","type":"nominal","legend":null,"scale":{"domain":["B","C","G","R","W"],"range":["#0000ff","#00ffff","#00ff00","#ff0000","#ffffff"]}},
   "shape":{"field":"m","type":"nominal","legend":null,"scale":{"domain":["x","+","L","R","S","T","O"],"range":["M-0.8,-0.8L0.8,0.8M-0.8,0.8L0.8,-0.8","M-1,0L1,0M0,-1L0,1","M0.75,-1L0.75,1L-0.95,0Z","M-0.75,-1L-0.75,1L0.95,0Z","M-1,-1L1,-1L1,1L-1,1Z","M0,-1L0.235,-0.324L0.951,-0.309L0.38,0.124L0.588,0.809L0,0.4L-0.588,0.809L-0.38,0.124L-0.951,-0.309L-0.235,-0.324Z","circle"]}}
  }},
 {"data":{"name":"types"},
  "transform":[{"filter":"datum.m=='O'"}],
  "mark":{"type":"point","filled":true,"opacity":1,"size":95,"stroke":"black","strokeWidth":1.5,"shape":"circle","fill":"white"},
  "encoding":{
   "x":{"field":"x","type":"quantitative","scale":{"domain":[37,45],"nice":false,"zero":false},"axis":null},
   "y":{"field":"y","type":"quantitative","scale":{"domain":[41,47.5],"nice":false,"zero":false},"axis":null}
  }},
 {"data":{"name":"keys"},
  "transform":[{"filter":"datum.m=='L'||datum.m=='R'"}],
  "mark":{"type":"point","filled":true,"opacity":1,"size":130,"stroke":"black","strokeWidth":1.2},
  "encoding":{
   "x":{"field":"x","type":"quantitative","scale":{"domain":[37,45],"nice":false,"zero":false},"axis":null},
   "y":{"field":"y","type":"quantitative","scale":{"domain":[41,47.5],"nice":false,"zero":false},"axis":null},
   "fill":{"field":"c","type":"nominal","legend":null,"scale":{"domain":["B","C","G","R","W"],"range":["#0000ff","#00ffff","#00ff00","#ff0000","#ffffff"]}},
   "shape":{"field":"m","type":"nominal","legend":null,"scale":{"domain":["x","+","L","R","S","T","O"],"range":["M-0.8,-0.8L0.8,0.8M-0.8,0.8L0.8,-0.8","M-1,0L1,0M0,-1L0,1","M0.75,-1L0.75,1L-0.95,0Z","M-0.75,-1L-0.75,1L0.95,0Z","M-1,-1L1,-1L1,1L-1,1Z","M0,-1L0.235,-0.324L0.951,-0.309L0.38,0.124L0.588,0.809L0,0.4L-0.588,0.809L-0.38,0.124L-0.951,-0.309L-0.235,-0.324Z","circle"]}}
  }},
 {"data":{"name":"keys"},
  "transform":[{"filter":"datum.m=='T'"}],
  "mark":{"type":"point","filled":true,"opacity":1,"size":150,"stroke":"black","strokeWidth":1.2},
  "encoding":{
   "x":{"field":"x","type":"quantitative","scale":{"domain":[37,45],"nice":false,"zero":false},"axis":null},
   "y":{"field":"y","type":"quantitative","scale":{"domain":[41,47.5],"nice":false,"zero":false},"axis":null},
   "fill":{"field":"c","type":"nominal","legend":null,"scale":{"domain":["B","C","G","R","W"],"range":["#0000ff","#00ffff","#00ff00","#ff0000","#ffffff"]}},
   "shape":{"field":"m","type":"nominal","legend":null,"scale":{"domain":["x","+","L","R","S","T","O"],"range":["M-0.8,-0.8L0.8,0.8M-0.8,0.8L0.8,-0.8","M-1,0L1,0M0,-1L0,1","M0.75,-1L0.75,1L-0.95,0Z","M-0.75,-1L-0.75,1L0.95,0Z","M-1,-1L1,-1L1,1L-1,1Z","M0,-1L0.235,-0.324L0.951,-0.309L0.38,0.124L0.588,0.809L0,0.4L-0.588,0.809L-0.38,0.124L-0.951,-0.309L-0.235,-0.324Z","circle"]}}
  }},
 {"data":{"name":"keys"},
  "transform":[{"filter":"datum.m=='S'"}],
  "mark":{"type":"point","filled":true,"opacity":1,"size":42,"stroke":"black","strokeWidth":1.2,"fill":"white","shape":"M-1,-1L1,-1L1,1L-1,1Z"},
  "encoding":{
   "x":{"field":"x","type":"quantitative","scale":{"domain":[37,45],"nice":false,"zero":false},"axis":null},
   "y":{"field":"y","type":"quantitative","scale":{"domain":[41,47.5],"nice":false,"zero":false},"axis":null}
  }},
 {"data":{"name":"keys"},
  "transform":[{"filter":"datum.m=='O'"}],
  "mark":{"type":"point","filled":true,"opacity":1,"size":70,"stroke":"black","strokeWidth":1.2,"fill":"white","shape":"circle"},
  "encoding":{
   "x":{"field":"x","type":"quantitative","scale":{"domain":[37,45],"nice":false,"zero":false},"axis":null},
   "y":{"field":"y","type":"quantitative","scale":{"domain":[41,47.5],"nice":false,"zero":false},"axis":null}
  }},
 {"data":{"values":[{"t":"NLS1","y":42.57},{"t":"Sy1","y":42.3},{"t":"BL Lac","y":42.0},{"t":"LINER","y":41.71},{"t":"PASSIVE","y":41.44}]},
  "mark":{"type":"text","align":"left","baseline":"middle","fontSize":11.9,"font":"Liberation Sans","color":"black"},
  "encoding":{
   "x":{"datum":43.87,"type":"quantitative","scale":{"domain":[37,45],"nice":false,"zero":false},"axis":null},
   "y":{"field":"y","type":"quantitative","scale":{"domain":[41,47.5],"nice":false,"zero":false},"axis":null},
   "text":{"field":"t"}
  }},
 {"data":{"values":[{"t":"log νL","x":39.9,"y":40.17},{"t":"[erg s","x":41.15,"y":40.17},{"t":"]","x":42.0,"y":40.17}]},
  "mark":{"type":"text","align":"left","baseline":"middle","fontSize":14.5,"font":"Liberation Sans","color":"black"},
  "encoding":{
   "x":{"field":"x","type":"quantitative","scale":{"domain":[37,45],"nice":false,"zero":false},"axis":null},
   "y":{"field":"y","type":"quantitative","scale":{"domain":[41,47.5],"nice":false,"zero":false},"axis":null},
   "text":{"field":"t"}
  }},
 {"data":{"values":[{"t":"20cm","x":40.66,"y":40.02},{"t":"-1","x":41.84,"y":40.31}]},
  "mark":{"type":"text","align":"left","baseline":"middle","fontSize":9.5,"font":"Liberation Sans","color":"black"},
  "encoding":{
   "x":{"field":"x","type":"quantitative","scale":{"domain":[37,45],"nice":false,"zero":false},"axis":null},
   "y":{"field":"y","type":"quantitative","scale":{"domain":[41,47.5],"nice":false,"zero":false},"axis":null},
   "text":{"field":"t"}
  }},
 {"data":{"values":[{"t":"log L","x":36.29,"y":42.57},{"t":"[erg s","x":36.29,"y":44.17},{"t":"]","x":36.29,"y":45.32}]},
  "mark":{"type":"text","align":"left","baseline":"middle","angle":270,"fontSize":14.5,"font":"Liberation Sans","color":"black"},
  "encoding":{
   "x":{"field":"x","type":"quantitative","scale":{"domain":[37,45],"nice":false,"zero":false},"axis":null},
   "y":{"field":"y","type":"quantitative","scale":{"domain":[41,47.5],"nice":false,"zero":false},"axis":null},
   "text":{"field":"t"}
  }},
 {"data":{"values":[{"t":"0.1-2.4 keV","x":36.45,"y":43.19},{"t":"-1","x":36.17,"y":45.08}]},
  "mark":{"type":"text","align":"left","baseline":"middle","angle":270,"fontSize":9.5,"font":"Liberation Sans","color":"black"},
  "encoding":{
   "x":{"field":"x","type":"quantitative","scale":{"domain":[37,45],"nice":false,"zero":false},"axis":null},
   "y":{"field":"y","type":"quantitative","scale":{"domain":[41,47.5],"nice":false,"zero":false},"axis":null},
   "text":{"field":"t"}
  }}
 ]},
{"width":32,"height":336,
 "layer":[
 {"data":{"name":"bins"},
  "mark":{"type":"rect"},
  "encoding":{
   "x":{"datum":0,"type":"quantitative","scale":{"domain":[0,1],"nice":false,"zero":false},"axis":null},
   "x2":{"datum":1},
   "y":{"field":"lo","type":"quantitative","scale":{"domain":[5,11],"nice":false,"zero":false},
    "axis":{"orient":"right","title":null,"values":[6,7,8,9,10],"format":".1f","domain":false,"ticks":false,"grid":false,"labelFont":"Liberation Sans","labelFontSize":8,"labelColor":"black","labelPadding":4,"labelOverlap":false}},
   "y2":{"field":"hi"},
   "color":{"field":"c","type":"nominal","legend":null,"scale":{"domain":["a","b","c","d","e","f"],"range":["#ccccff","#0000ff","#00ffff","#00ff00","#ff0000","#7f0000"]}}
  }},
 {"data":{"values":[{"t":"log M","x":2.03,"y":9.07},{"t":"[M","x":2.03,"y":8.04},{"t":"]","x":2.03,"y":7.43}]},
  "mark":{"type":"text","align":"left","baseline":"middle","angle":90,"fontSize":14.5,"font":"Liberation Sans","color":"black"},
  "encoding":{
   "x":{"field":"x","type":"quantitative","scale":{"domain":[0,1],"nice":false,"zero":false},"axis":null},
   "y":{"field":"y","type":"quantitative","scale":{"domain":[5,11],"nice":false,"zero":false},"axis":null},
   "text":{"field":"t"}
  }},
 {"data":{"values":[{"t":"BH","x":1.75,"y":8.34},{"t":"sun","x":1.75,"y":7.71}]},
  "mark":{"type":"text","align":"left","baseline":"middle","angle":90,"fontSize":9.5,"font":"Liberation Sans","color":"black"},
  "encoding":{
   "x":{"field":"x","type":"quantitative","scale":{"domain":[0,1],"nice":false,"zero":false},"axis":null},
   "y":{"field":"y","type":"quantitative","scale":{"domain":[5,11],"nice":false,"zero":false},"axis":null},
   "text":{"field":"t"}
  }}
 ]}
],
"bounds":"flush",
"spacing":5
}
